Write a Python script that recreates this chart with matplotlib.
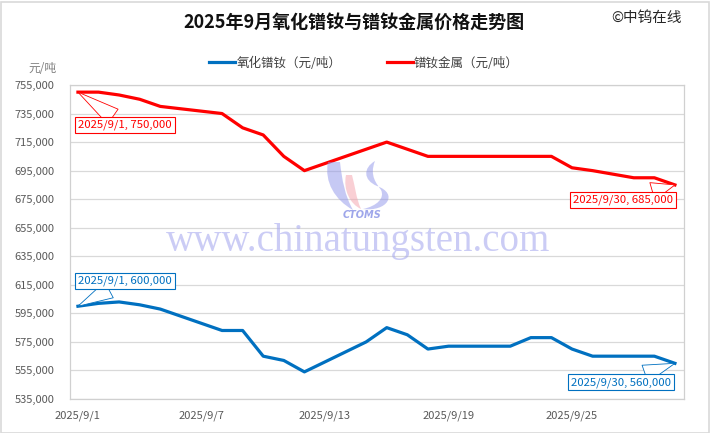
import matplotlib
matplotlib.use("Agg")
import matplotlib.pyplot as plt
from matplotlib.patches import Rectangle, PathPatch
from matplotlib.path import Path
from matplotlib.ticker import FuncFormatter

plt.rcParams['font.family'] = ['Noto Sans CJK SC', 'DejaVu Sans']

# 2025年9月 交易日（日）
days = [1, 2, 3, 4, 5, 8, 9, 10, 11, 12, 15, 16, 17, 18, 19,
        22, 23, 24, 25, 26, 28, 29, 30]
praseodymium_oxide = [600000, 602000, 603000, 601000, 598000, 583000, 583000,
                      565000, 562000, 554000, 575000, 585000, 580000, 570000,
                      572000, 572000, 578000, 578000, 570000, 565000, 565000,
                      565000, 560000]
prnd_metal = [750000, 750000, 748000, 745000, 740000, 735000, 725000, 720000,
              705000, 695000, 710000, 715000, 710000, 705000, 705000, 705000,
              705000, 705000, 697000, 695000, 690000, 690000, 685000]
xtick_days = [1, 7, 13, 19, 25]
xtick_labels = ["2025/9/%d" % d for d in xtick_days]
yticks = list(range(535000, 755001, 20000))
series_names = ["氧化镨钕（元/吨）", "镨钕金属（元/吨）"]
BLUE = "#0070C0"
RED = "#FF0000"

fig = plt.figure(figsize=(7.10, 4.33), dpi=100)
W, H = 710, 433
ax = fig.add_axes([69.5 / W, 1 - 399 / H, (684 - 69.5) / W, (399 - 85) / H])

ax.plot(days, praseodymium_oxide, color=BLUE, lw=2.3, zorder=4,
        solid_joinstyle='round', label=series_names[0])
ax.plot(days, prnd_metal, color=RED, lw=2.3, zorder=4,
        solid_joinstyle='round', label=series_names[1])

ax.set_xlim(days[0] - 0.41, days[-1] + 0.44)
ax.set_ylim(yticks[0], yticks[-1])
ax.set_yticks(yticks)
ax.yaxis.set_major_formatter(FuncFormatter(lambda v, p: "{:,.0f}".format(v)))
ax.set_xticks(xtick_days)
ax.set_xticklabels(xtick_labels)
ax.tick_params(axis='both', length=0, labelsize=8, labelcolor='#595959')
ax.tick_params(axis='y', pad=11)
ax.tick_params(axis='x', pad=8)
ax.grid(axis='y', color='#d9d9d9', lw=0.9)
ax.set_axisbelow(True)
for s in ax.spines.values():
    s.set_color('#d0d0d0')
    s.set_linewidth(0.9)

# 数据标签
def callout(x, y, color, dx, dy):
    ax.annotate("2025/9/%d, %s" % (x, "{:,.0f}".format(y)), xy=(x, y),
                xytext=(dx, dy), textcoords='offset pixels',
                ha='center', va='center', fontsize=8.2, color=color, zorder=6,
                bbox=dict(boxstyle='square,pad=0.25', fc='white', ec=color, lw=0.8),
                arrowprops=dict(arrowstyle='wedge,tail_width=1.6,shrink_factor=0.5',
                                fc='white', ec=color, lw=0.6, shrinkA=0, shrinkB=0))

callout(days[0], prnd_metal[0], RED, 47, -33)
callout(days[-1], prnd_metal[-1], RED, -52, -15)
callout(days[0], praseodymium_oxide[0], BLUE, 47, 25)
callout(days[-1], praseodymium_oxide[-1], BLUE, -54, -19)

# 标题、图例、单位
fig.text(354 / W, 1 - 22 / H, "2025年9月氧化镨钕与镨钕金属价格走势图",
         ha='center', va='center', fontsize=13, fontweight='bold', color='#111111')
fig.text(647 / W, 1 - 18 / H, "©中钨在线", ha='center', va='center',
         fontsize=10.5, color='#262626')
fig.text(42 / W, 1 - 69 / H, "元/吨", ha='center', va='center',
         fontsize=8.5, color='#808080')
fig.legend(loc='center', bbox_to_anchor=(364 / W, 1 - 63 / H), ncol=2,
           frameon=False, fontsize=9, handlelength=2.1, handletextpad=0.1,
           columnspacing=3.6, labelcolor='#404040')

# 水印
fig.text(358 / W, 1 - 241 / H, "www.chinatungsten.com", ha='center', va='center',
         fontsize=28, family='Liberation Serif', color='#a9abef', alpha=0.6,
         zorder=3)
logo = fig.add_axes([325 / W, 1 - 220 / H, 75 / W, 65 / H])
logo.set_xlim(0, 75)
logo.set_ylim(0, 65)
logo.axis('off')
logo.patch.set_alpha(0)

def blob(verts, color):
    codes = [Path.MOVETO] + [Path.CURVE4] * (len(verts) - 1)
    logo.add_patch(PathPatch(Path(verts, codes), fc=color, ec='none', alpha=0.5))

# 左侧蓝色弯月
blob([(3, 58), (-1, 38), (10, 20), (28, 10),
      (20, 24), (17, 40), (15, 58),
      (11, 58), (7, 58), (3, 58)], '#8f94ea')
# 中间粉色
blob([(21, 45), (18, 30), (25, 16), (36, 11),
      (31, 22), (30, 34), (27, 45),
      (25, 45), (23, 45), (21, 45)], '#f4a0ab')
# 右侧蓝色 S 形
blob([(50, 59), (38, 52), (38, 40), (52, 34),
      (74, 26), (62, 8), (38, 11),
      (52, 14), (60, 22), (56, 30),
      (52, 36), (44, 44), (50, 59)], '#8f94ea')
logo.text(37, 5, "CTOMS", ha='center', va='center', fontsize=7,
          fontweight='bold', style='italic', color='#9ea6ea', family='DejaVu Sans')

fig.add_artist(Rectangle((0.5 / W, 0.5 / H), 1 - 2 / W, 1 - 2 / H,
                         transform=fig.transFigure, fill=False,
                         ec='#d9d9d9', lw=1.2))

fig.savefig("out.png", dpi=100)
